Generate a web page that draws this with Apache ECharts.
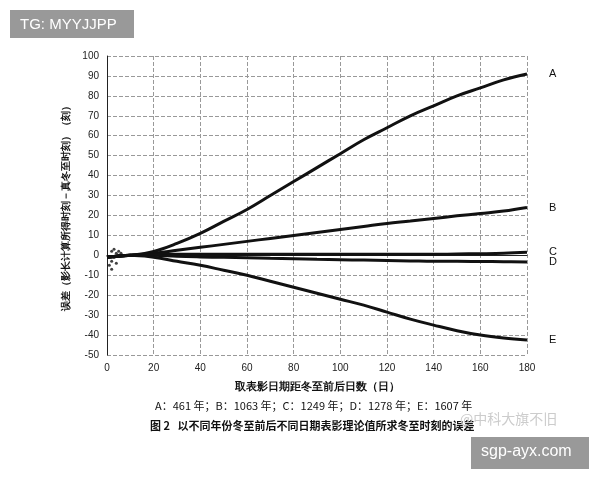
<!DOCTYPE html><html><head><meta charset="utf-8">
<script src="https://cdn.jsdelivr.net/npm/echarts@6/dist/echarts.min.js"></script>
<style>body{margin:0;background:#fff}#c{width:600px;height:480px}</style></head><body><div id="c"></div>
<script>
const xs=[0,10,20,30,40,50,60,70,80,90,100,110,120,130,140,150,160,170,180];
const A=[-1,0,2,6,11,17,23,30,37,44,51,58,64,70,75,80,84,88,91,92.5].slice(0,19);
const B=[-1,0,1,2.5,4,5.5,7,8.5,10,11.5,13,14.5,16,17.2,18.5,19.8,21,22.2,24];
const C=[-1,0,0.5,0.5,0.5,0.5,0.5,0.5,0.5,0.5,0.5,0.5,0.5,0.5,0.5,0.7,0.8,1,1.5];
const D=[-1,0,0,-0.5,-0.8,-1,-1.2,-1.5,-1.7,-2,-2.2,-2.4,-2.6,-2.8,-3,-3,-3.1,-3.2,-3.3];
const E=[-1,0,-1,-3,-5,-7.5,-10,-13,-16,-19,-22,-25,-28.5,-32,-35,-37.8,-40,-41.5,-42.5];
const dots=[[2,-7],[2,-3],[2,2],[3,3],[3,-1],[4,1],[4,-4],[5,2],[5,0],[6,1],[1,-5]];
const names=['A','B','C','D','E'];
const ser=[A,B,C,D,E].map((d,i)=>({type:'line',smooth:0.4,symbol:'none',data:xs.map((x,j)=>[x,d[j]]),lineStyle:{color:'#111',width:3},
 endLabel:{show:true,formatter:names[i],color:'#111',fontSize:11,offset:[14,0]}}));
ser.push({type:'scatter',data:dots,symbolSize:3,itemStyle:{color:'#111'}});
const c=echarts.init(document.getElementById('c'));
c.setOption({animation:false,
grid:{left:107,right:73,top:56,bottom:125},
xAxis:{type:'value',min:0,max:180,interval:20,axisLine:{lineStyle:{color:'#222'}},axisTick:{show:false},axisLabel:{color:'#222',fontSize:10},
 splitLine:{show:true,lineStyle:{color:'#999',type:'dashed'}},
 name:'取表影日期距冬至前后日数（日）',nameLocation:'middle',nameGap:26,nameTextStyle:{color:'#111',fontSize:11,fontWeight:'bold'}},
yAxis:{type:'value',min:-50,max:100,interval:10,axisLine:{show:true,lineStyle:{color:'#222'}},axisTick:{show:false},axisLabel:{color:'#222',fontSize:10},
 splitLine:{show:true,lineStyle:{color:'#999',type:'dashed'}},
 name:'误差（影长计算所得时刻－真冬至时刻）（刻）',nameLocation:'middle',nameGap:30,nameTextStyle:{color:'#111',fontSize:10,fontWeight:'bold'}},
series:ser,
graphic:[
 {type:'rect',left:10,top:10,shape:{width:124,height:28},style:{fill:'#999'}},
 {type:'text',left:20,top:17,style:{text:'TG: MYYJJPP',fill:'#fff',font:'15px sans-serif'}},
 {type:'text',left:155,top:400,style:{text:'A：461 年；B：1063 年；C：1249 年；D：1278 年；E：1607 年',fill:'#111',font:'11px "Noto Sans CJK SC"'}},
 {type:'text',left:150,top:420,style:{text:'图 2   以不同年份冬至前后不同日期表影理论值所求冬至时刻的误差',fill:'#111',font:'bold 11px "Noto Sans CJK SC"'}},
 {type:'text',left:460,top:412,style:{text:'@中科大旗不旧',fill:'#ccc',font:'14px "Noto Sans CJK SC"'}},
 {type:'rect',left:471,top:437,shape:{width:118,height:32},style:{fill:'#999'}},
 {type:'text',left:481,top:444,style:{text:'sgp-ayx.com',fill:'#fff',font:'16px sans-serif'}}
]});
</script></body></html>
